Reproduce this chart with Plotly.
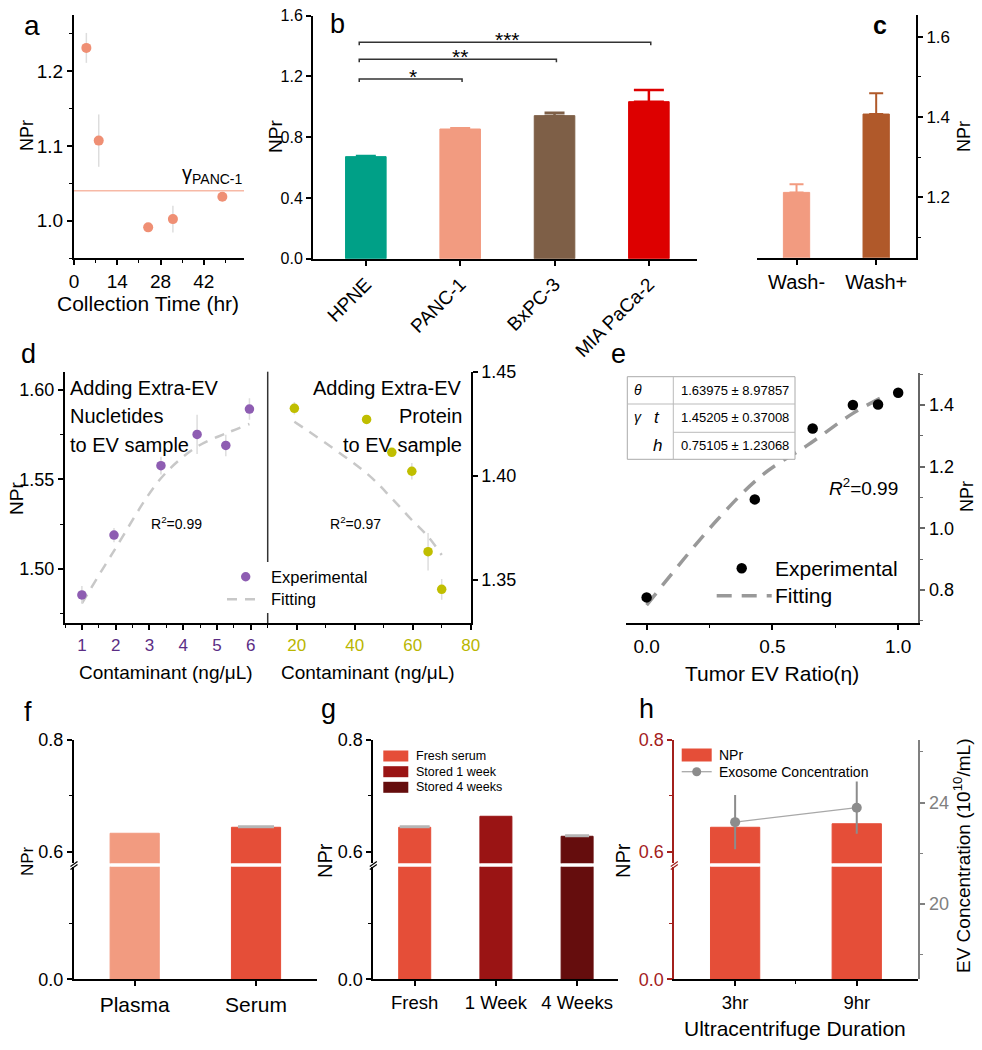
import plotly.graph_objects as go

W, H = 982, 1050
def PX(x): return x / W
def PY(y): return 1 - y / H

FONT = "Liberation Sans, Arial, Helvetica, sans-serif"

# ---------------- data ----------------
# (a) collection time
a_time = [4, 8, 24, 32, 48]
a_npr = [1.231, 1.107, 0.991, 1.002, 1.032]
a_err = [0.020, 0.035, 0.004, 0.018, 0.004]
a_gamma_panc1 = 1.040

# (b) cell lines
b_cells = ["HPNE", "PANC-1", "BxPC-3", "MIA PaCa-2"]
b_npr = [0.672, 0.854, 0.942, 1.034]
b_err = [0.005, 0.005, 0.019, 0.077]
b_colors = ["#00A087", "#F29B80", "#7E5F47", "#DD0000"]
b_sig = [(0, 1, "*"), (0, 2, "**"), (0, 3, "***")]
b_sig_level = [1.183, 1.313, 1.425]

# (c) wash
c_cond = ["Wash-", "Wash+"]
c_npr = [1.2125, 1.4075]
c_err = [0.020, 0.052]
c_colors = ["#F29B80", "#B0592A"]

# (d) contaminants
d_nuc_conc = [1.0, 1.95, 3.34, 4.41, 5.26, 5.96]
d_nuc_npr = [1.4853, 1.5188, 1.5577, 1.5752, 1.5690, 1.5894]
d_nuc_err = [0.005, 0.004, 0.005, 0.011, 0.006, 0.006]
d_nuc_fit = [1.4806, 1.5100, 1.5506, 1.5683, 1.5757, 1.5810]
d_prot_conc = [19.2, 44.1, 52.8, 59.7, 65.3, 70.0]
d_prot_npr = [1.4324, 1.4271, 1.4113, 1.4022, 1.3636, 1.3455]
d_prot_err = [0.003, 0.002, 0.002, 0.004, 0.009, 0.005]
d_prot_fit = [1.4260, 1.4012, 1.3892, 1.3788, 1.3708, 1.3620]

# (e) tumor EV ratio
e_eta = [0.0, 0.43, 0.66, 0.82, 0.92, 1.0]
e_npr = [0.776, 1.094, 1.324, 1.400, 1.402, 1.440]
e_eta_fit = [0.0, 0.28, 0.46, 0.64, 0.82, 0.94]
e_npr_fit = [0.751, 1.027, 1.173, 1.270, 1.373, 1.427]
e_params = [("θ", "", "1.63975 ± 8.97857"),
            ("γ", "t", "1.45205 ± 0.37008"),
            ("", "h", "0.75105 ± 1.23068")]

# (f) sample type
f_sample = ["Plasma", "Serum"]
f_npr = [0.633, 0.6437]
f_err = [0.0, 0.002]
f_colors = ["#F29B80", "#E54E38"]

# (g) storage
g_storage = ["Fresh", "1 Week", "4 Weeks"]
g_legend = ["Fresh serum", "Stored 1 week", "Stored 4 weeks"]
g_npr = [0.6437, 0.6634, 0.6276]
g_err = [0.002, 0.0, 0.002]
g_colors = ["#E54E38", "#9A1414", "#650D0D"]

# (h) ultracentrifuge duration
h_duration = ["3hr", "9hr"]
h_npr = [0.6437, 0.650]
h_ev_conc = [23.23, 23.80]
h_ev_err = [1.07, 1.03]

# ---------------- figure ----------------
fig = go.Figure()
ann = []
shp = []

def text(t, x, y, size, angle=0, color="black", xa="center", ya="middle", **kw):
    ann.append(dict(text=t, x=PX(x), y=PY(y), xref="paper", yref="paper",
                    showarrow=False, textangle=angle, xanchor=xa, yanchor=ya,
                    font=dict(family=FONT, size=size, color=color), **kw))

def pline(x0, y0, x1, y1, color="black", width=1.5, dash=None, layer="above"):
    shp.append(dict(type="line", xref="paper", yref="paper", x0=PX(x0), y0=PY(y0),
                    x1=PX(x1), y1=PY(y1), layer=layer,
                    line=dict(color=color, width=width, dash=dash)))

def prect(x0, y0, x1, y1, fill, line="rgba(0,0,0,0)", width=0, layer="above"):
    shp.append(dict(type="rect", xref="paper", yref="paper", x0=PX(x0), y0=PY(y1),
                    x1=PX(x1), y1=PY(y0), fillcolor=fill, layer=layer,
                    line=dict(color=line, width=width)))

def pcircle(cx, cy, r, fill):
    shp.append(dict(type="circle", xref="paper", yref="paper", x0=PX(cx - r), y0=PY(cy + r),
                    x1=PX(cx + r), y1=PY(cy - r), fillcolor=fill, layer="above",
                    line=dict(color=fill, width=0)))

def axis(dom_px, rng, vertical=False, size=18, color="black", lw=2, **kw):
    if vertical:
        dom = [PY(dom_px[1]), PY(dom_px[0])]
    else:
        dom = [PX(dom_px[0]), PX(dom_px[1])]
    d = dict(domain=dom, range=rng, showline=True, linecolor=color, linewidth=lw,
             ticks="outside", ticklen=5, tickwidth=1.5, tickcolor=color,
             showgrid=False, zeroline=False, fixedrange=True, automargin=False,
             tickfont=dict(family=FONT, size=size, color=color))
    d.update(kw)
    return d

def minor(**kw):
    m = dict(ticks="outside", ticklen=3, tickwidth=1.2, tickcolor="black", showgrid=False)
    m.update(kw)
    return m

L = {}

# ----- (a)
fig.add_trace(go.Scatter(x=a_time, y=a_npr, mode="markers",
                         marker=dict(size=10, color="#EF8F74"),
                         error_y=dict(type="data", array=a_err, color="#DDDDDD", thickness=1.5, width=0),
                         xaxis="x", yaxis="y", showlegend=False))
shp.append(dict(type="line", xref="x domain", yref="y", x0=0, x1=1, y0=a_gamma_panc1, y1=a_gamma_panc1,
                line=dict(color="#F7B9A6", width=1.5), layer="below"))
L["xaxis"] = axis([74, 244], [0, 55], anchor="y", tickvals=[0, 14, 28, 42], size=19,
                  minor=minor(dtick=7, tick0=0))
L["yaxis"] = axis([15, 258], [0.95, 1.275], vertical=True, anchor="x", dtick=0.1, tick0=0,
                  tickformat=".1f", size=19, minor=minor(dtick=0.05, tick0=0))
text("γ<sub>PANC-1</sub>", 212, 175, 20)
text("NPr", 27, 136, 18, angle=-90)
text("Collection Time (hr)", 148, 303, 21)
text("a", 32, 25, 28)

# ----- (b)
for i, (cell, v, e, c) in enumerate(zip(b_cells, b_npr, b_err, b_colors)):
    fig.add_trace(go.Bar(x=[i], y=[v], width=0.43, marker=dict(color=c, line=dict(color=c, width=1)),
                         error_y=dict(type="data", array=[e], arrayminus=[0], symmetric=False,
                                      color=c, thickness=2.5, width=15 if i == 3 else 10),
                         xaxis="x2", yaxis="y2", showlegend=False, name=cell))
for (i0, i1, star), lvl in zip(b_sig, b_sig_level):
    shp.append(dict(type="path", xref="x2", yref="y2",
                    path=f"M {i0-0.07},{lvl-0.02} L {i0-0.07},{lvl} L {i1+0.02},{lvl} L {i1+0.02},{lvl-0.02}",
                    line=dict(color="#333333", width=1.5)))
    ann.append(dict(text=star, x=(i0 + i1) / 2, y=lvl, xref="x2", yref="y2", showarrow=False,
                    xanchor="center", yanchor="middle", yshift=3,
                    font=dict(family=FONT, size=21, color="black")))
L["xaxis2"] = axis([313, 697], [-0.56, 3.51], anchor="y2", tickvals=list(range(len(b_cells))),
                   ticktext=b_cells, tickangle=-45, size=19)
L["yaxis2"] = axis([15.7, 258.7], [0, 1.6], vertical=True, anchor="x2", dtick=0.4,
                   tickformat=".1f", size=16)
text("NPr", 276, 137, 19, angle=-90)
text("b", 337, 24, 27)

# ----- (c)
for i, (cond, v, e, c) in enumerate(zip(c_cond, c_npr, c_err, c_colors)):
    fig.add_trace(go.Bar(x=[i], y=[v], width=0.33, marker=dict(color=c, line=dict(color=c, width=1)),
                         error_y=dict(type="data", array=[e], arrayminus=[0], symmetric=False,
                                      color=c, thickness=2, width=7),
                         xaxis="x3", yaxis="y3", showlegend=False, name=cond))
L["xaxis3"] = axis([756.7, 916], [-0.5, 1.5], anchor="y3", tickvals=[0, 1], ticktext=c_cond, size=20)
L["yaxis3"] = axis([15, 257.7], [1.05, 1.654], vertical=True, anchor="x3", side="right", dtick=0.2,
                   tick0=0, tickformat=".1f", size=17, minor=minor(dtick=0.1, tick0=0))
text("NPr", 964, 137, 18, angle=-90)
text("<b>c</b>", 880, 25, 25)

# ----- (d)
fig.add_trace(go.Scatter(x=d_nuc_conc, y=d_nuc_fit, mode="lines", line=dict(color="#C8C8C8", width=2.5, dash="10px,8px", shape="spline"),
                         xaxis="x4", yaxis="y4", showlegend=False))
fig.add_trace(go.Scatter(x=d_nuc_conc, y=d_nuc_npr, mode="markers", marker=dict(size=9.5, color="#8E5DB2"),
                         error_y=dict(type="data", array=d_nuc_err, color="#DDDDDD", thickness=1.5, width=0),
                         xaxis="x4", yaxis="y4", showlegend=False))
fig.add_trace(go.Scatter(x=d_prot_conc, y=d_prot_fit, mode="lines", line=dict(color="#C8C8C8", width=2.5, dash="10px,8px", shape="spline"),
                         xaxis="x5", yaxis="y5", showlegend=False))
fig.add_trace(go.Scatter(x=d_prot_conc, y=d_prot_npr, mode="markers", marker=dict(size=9.5, color="#C0BE00"),
                         error_y=dict(type="data", array=d_prot_err, color="#DDDDDD", thickness=1.5, width=0),
                         xaxis="x5", yaxis="y5", showlegend=False))
L["xaxis4"] = axis([65, 267.7], [0.5, 6.5], anchor="y4", dtick=1, tick0=0, color="black", size=17,
                   minor=minor(dtick=0.5, tick0=0))
L["xaxis4"]["tickfont"]["color"] = "#5B2D85"
L["yaxis4"] = axis([371.7, 623.3], [1.4694, 1.6103], vertical=True, anchor="x4", dtick=0.05, tick0=0,
                   tickformat=".2f", size=18, minor=minor(dtick=0.025, tick0=0))
L["xaxis5"] = axis([267.7, 470.7], [10, 80], anchor="y5", tickvals=[20, 40, 60, 80], size=17,
                   minor=minor(dtick=10, tick0=0))
L["xaxis5"]["tickfont"]["color"] = "#B9B600"
L["yaxis5"] = axis([371.7, 623.3], [1.3292, 1.45], vertical=True, anchor="x5", side="right", dtick=0.05,
                   tick0=0, tickformat=".2f", size=18)
pline(267.7, 371.7, 267.7, 623.3, color="#333333", width=1.5, layer="below")
# legend (d)
prect(222, 562, 318, 613, "white")
pcircle(245.7, 576.7, 4.7, "#8E5DB2")
pline(227, 599.3, 260, 599.3, color="#C8C8C8", width=2.5, dash="10px,8px")
text("Experimental", 269.3, 576.7, 16.5, xa="left")
text("Fitting", 269.3, 599.3, 16.5, xa="left")
for t, yy in zip(["Adding Extra-EV", "Nucletides", "to EV sample"], [388, 416, 445]):
    text(t, 68, yy, 20, xa="left")
for t, yy in zip(["Adding Extra-EV", "Protein", "to EV sample"], [388, 416, 445]):
    text(t, 464, yy, 20, xa="right")
text("R<sup>2</sup>=0.99", 176.7, 523, 14)
text("R<sup>2</sup>=0.97", 355, 523, 14)
text("NPr", 16, 498, 19, angle=-90)
text("Contaminant (ng/μL)", 166, 672, 19)
text("Contaminant (ng/μL)", 368, 672, 19)
text("d", 28, 354, 27)

# ----- (e)
fig.add_trace(go.Scatter(x=e_eta_fit, y=e_npr_fit, mode="lines",
                         line=dict(color="#999999", width=3.5, dash="15px,10px", shape="spline"),
                         xaxis="x6", yaxis="y6", showlegend=False))
fig.add_trace(go.Scatter(x=e_eta, y=e_npr, mode="markers", marker=dict(size=10.5, color="black"),
                         xaxis="x6", yaxis="y6", showlegend=False))
L["xaxis6"] = axis([626, 918.3], [-0.082, 1.08], anchor="y6", tickvals=[0, 0.5, 1.0], tickformat=".1f",
                   size=19, minor=minor(dtick=0.25, tick0=0))
L["yaxis6"] = axis([373.3, 623.3], [0.692, 1.503], vertical=True, anchor="x6", side="right", dtick=0.2,
                   tick0=0, tickformat=".1f", size=18, color="#666666",
                   minor=minor(dtick=0.1, tick0=0, tickcolor="#666666"))
L["yaxis6"]["tickfont"]["color"] = "black"
# parameter table
prect(627.3, 376.7, 795, 459.3, "white", line="#AAAAAA", width=1)
pline(627.3, 404, 795, 404, color="#BBBBBB", width=1)
pline(673.3, 432.3, 795, 432.3, color="#BBBBBB", width=1)
pline(673.3, 376.7, 673.3, 459.3, color="#BBBBBB", width=1)
for (g1, g2, val), yy in zip(e_params, [390, 417.5, 445]):
    if g1:
        text(f"<i>{g1}</i>", 632, yy, 14, xa="left")
    if g2:
        text(f"<i>{g2}</i>", 657, yy, 17)
    text(val, 735, yy, 13)
text("<i>R</i><sup>2</sup>=0.99", 863, 487, 19)
pcircle(741.7, 568.3, 5.2, "black")
pline(716.7, 595.7, 771.7, 595.7, color="#999999", width=3.5, dash="15px,10px")
text("Experimental", 773.3, 568.3, 21, xa="left")
text("Fitting", 773.3, 595.7, 21, xa="left")
text("NPr", 967, 497, 18, angle=-90)
text("Tumor EV Ratio(η)", 772, 673, 21)
text("e", 618, 354, 27)

# ----- broken-axis bar panels (f, g, h)
LOW = [866.7, 979.3]
UP = [740, 863.3]
LOW_RANGE = [0, 0.2016]
UP_RANGE = [0.5792, 0.8]

def broken_axes(xname, yl, yu, xdom, xrange_, labels, lsize, color="black", xminor=None):
    xa = axis(xdom, xrange_, anchor=yl.replace("axis", ""), tickvals=list(range(len(labels))),
              ticktext=labels, size=lsize)
    if xminor:
        xa["minor"] = xminor
    L[xname] = xa
    xr = xname.replace("axis", "")
    L[yl] = axis(LOW, LOW_RANGE, vertical=True, anchor=xr, tickvals=[0], ticktext=["0.0"], size=18,
                 color=color, minor=minor(tickvals=[0.1], tickcolor=color))
    L[yu] = axis(UP, UP_RANGE, vertical=True, anchor=xr, tickvals=[0.6, 0.8], ticktext=["0.6", "0.8"],
                 size=18, color=color, minor=minor(tickvals=[0.7], tickcolor=color))
    x0 = xdom[0]
    pline(x0 - 3.5, 866.5, x0 + 3.5, 861.5, color=color, width=1.2)
    pline(x0 - 3.5, 869.5, x0 + 3.5, 864.5, color=color, width=1.2)

def broken_bars(xs, vals, errs, colors, width, xr, yl, yu, err_w):
    for i, (v, e, c) in enumerate(zip(vals, errs, colors)):
        fig.add_trace(go.Bar(x=[i], y=[v], width=width, marker=dict(color=c, line=dict(color=c, width=1)),
                             xaxis=xr, yaxis=yl, showlegend=False, name=xs[i]))
        fig.add_trace(go.Bar(x=[i], y=[v], width=width, marker=dict(color=c, line=dict(color=c, width=1)),
                             error_y=dict(type="data", array=[e], arrayminus=[0], symmetric=False,
                                          color="#B5B5B5", thickness=2, width=err_w[i],
                                          visible=e > 0),
                             xaxis=xr, yaxis=yu, showlegend=False, name=xs[i]))

# (f)
broken_bars(f_sample, f_npr, f_err, f_colors, 0.405, "x7", "y7", "y8", [18, 18])
broken_axes("xaxis7", "yaxis7", "yaxis8", [74, 316.7], [-0.5, 1.5], f_sample, 21)
text("NPr", 27, 861, 17, angle=-90)
text("f", 28, 712, 27)

# (g)
broken_bars(g_storage, g_npr, g_err, g_colors, 0.394, "x8", "y9", "y10", [15, 15, 12])
broken_axes("xaxis8", "yaxis9", "yaxis10", [373.3, 617.7], [-0.51, 2.5], g_storage, 18.5)
for (lab, c), yy in zip(zip(g_legend, g_colors), [756, 771.7, 787.3]):
    prect(383.3, yy - 5.5, 408.3, yy + 5.5, c)
    text(lab, 414, yy, 12.5, xa="left")
text("NPr", 325, 861, 20, angle=-90)
text("g", 328, 709, 27)

# (h)
RED = "#A3201C"
broken_bars(h_duration, h_npr, [0, 0], ["#E54E38", "#E54E38"], 0.405, "x9", "y11", "y12", [0, 0])
fig.add_trace(go.Scatter(x=list(range(len(h_duration))), y=h_ev_conc, mode="lines+markers",
                         line=dict(color="#A8A8A8", width=1.3), marker=dict(size=10, color="#8C8C8C"),
                         error_y=dict(type="data", array=h_ev_err, color="#8C8C8C", thickness=2, width=0),
                         xaxis="x9", yaxis="y13", showlegend=False))
broken_axes("xaxis9", "yaxis11", "yaxis12", [674.3, 918.3], [-0.5, 1.506], h_duration, 18.5, color=RED,
            xminor=minor(tickvals=[0.5]))
L["xaxis9"]["linecolor"] = "black"
L["xaxis9"]["tickcolor"] = "black"
L["yaxis13"] = axis([740, 979.3], [17.03, 26.47], vertical=True, anchor="x9", side="right",
                    tickvals=[20, 24], size=18, color="#808080",
                    minor=minor(tickvals=[18, 22, 26], tickcolor="#808080"))
prect(681.7, 748.5, 711.7, 761.5, "#E54E38")
text("NPr", 717.3, 755, 14, xa="left")
pline(681.7, 771.7, 711.7, 771.7, color="#A8A8A8", width=1.3)
pcircle(696.7, 771.7, 4.5, "#8C8C8C")
text("Exosome Concentration", 717.3, 771.7, 14, xa="left")
text("NPr", 623, 861, 20, angle=-90)
text("EV Concentration (10<sup>10</sup>/mL)", 962, 856, 19, angle=-90)
text("Ultracentrifuge Duration", 795, 1028, 21)
text("h", 646, 709, 27)

fig.update_layout(
    width=W, height=H, autosize=False,
    margin=dict(l=0, r=0, t=0, b=0, pad=0),
    paper_bgcolor="white", plot_bgcolor="rgba(0,0,0,0)",
    barmode="overlay", showlegend=False,
    font=dict(family=FONT, color="black"),
    annotations=ann, shapes=shp,
    **L,
)
fig.write_html("out.html", config={"displayModeBar": False},
               post_script="document.body.style.margin='0px';document.body.style.overflow='hidden';")
